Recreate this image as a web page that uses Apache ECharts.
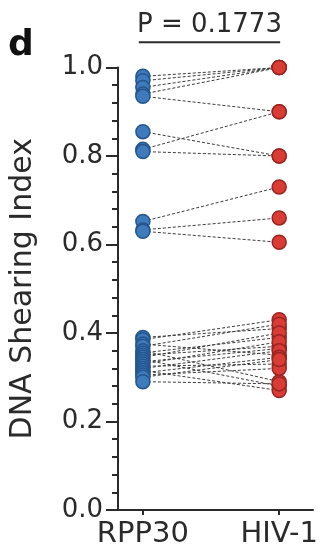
<!DOCTYPE html>
<html>
<head>
<meta charset="utf-8">
<script src="https://cdn.jsdelivr.net/npm/echarts@6/dist/echarts.min.js"></script>
<style>
  html, body { margin: 0; padding: 0; background: #fff; }
  #chart { width: 325px; height: 559px; }
</style>
</head>
<body>
<div id="chart"></div>
<script>
const categories = ['RPP30', 'HIV-1'];
// paired values, same index = same sample
const rpp30 = [
  0.98, 0.97, 0.955, 0.94, 0.935, 0.855, 0.815, 0.81, 0.652, 0.633, 0.63,
  0.39, 0.385, 0.375, 0.37, 0.36, 0.355, 0.35, 0.345, 0.34,
  0.335, 0.33, 0.325, 0.32, 0.315, 0.31, 0.305, 0.30, 0.29
];
const hiv1 = [
  1.0, 1.0, 1.0, 1.0, 0.90, 0.80, 0.90, 0.80, 0.73, 0.66, 0.605,
  0.41, 0.43, 0.35, 0.42, 0.29, 0.39, 0.37, 0.40, 0.28,
  0.365, 0.38, 0.33, 0.36, 0.27, 0.345, 0.32, 0.34, 0.285
];
const yTicks = [0, 0.2, 0.4, 0.6, 0.8, 1.0];
const pLabel = 'P = 0.1773';

const font = 'DejaVu Sans';
const ink = '#2a2a2a';

const chart = echarts.init(document.getElementById('chart'));

const pairSeries = rpp30.map((v, i) => ({
  type: 'line',
  data: [[0, v], [1, hiv1[i]]],
  symbol: 'none',
  silent: true,
  z: 1,
  lineStyle: { color: '#3a3a3a', width: 1, type: [3, 2] }
}));

chart.setOption({
  animation: false,
  grid: { left: 117, right: 12, top: 67.5, bottom: 49 },
  xAxis: {
    type: 'value',
    min: -0.1825,
    max: 1.248,
    splitLine: { show: false },
    axisLine: { onZero: false, lineStyle: { color: ink, width: 2 } },
    axisTick: { customValues: [0, 1], length: 5, lineStyle: { color: ink, width: 2 } },
    axisLabel: {
      customValues: [0, 1],
      formatter: v => categories[Math.round(v)],
      color: ink,
      fontFamily: font,
      fontSize: 29,
      margin: 10
    }
  },
  yAxis: {
    type: 'value',
    min: 0,
    max: 1,
    interval: 0.2,
    name: 'DNA Shearing Index',
    nameLocation: 'middle',
    nameGap: 80,
    nameTextStyle: { color: ink, fontFamily: font, fontSize: 30 },
    splitLine: { show: false },
    axisLine: { show: true, onZero: false, lineStyle: { color: ink, width: 2 } },
    axisTick: { length: 12, lineStyle: { color: ink, width: 2 } },
    minorTick: { show: true, splitNumber: 5, length: 6, lineStyle: { color: ink, width: 2 } },
    axisLabel: {
      formatter: v => v.toFixed(1),
      color: ink,
      fontFamily: font,
      fontSize: 26,
      margin: 15
    }
  },
  series: [
    ...pairSeries,
    {
      type: 'scatter',
      data: rpp30.map(v => [0, v]),
      symbolSize: 14,
      z: 3,
      itemStyle: { color: '#3e7bbd', borderColor: '#25568e', borderWidth: 1.5, opacity: 1 }
    },
    {
      type: 'scatter',
      data: hiv1.map(v => [1, v]),
      symbolSize: 14,
      z: 3,
      itemStyle: { color: '#d83c34', borderColor: '#9c2420', borderWidth: 1.5, opacity: 1 }
    }
  ]
});

// annotation: panel letter, p value and its bar
const [bx0, by] = chart.convertToPixel({ gridIndex: 0 }, [-0.03, 1.057]);
const [bx1] = chart.convertToPixel({ gridIndex: 0 }, [1.007, 1.057]);
chart.setOption({
  graphic: [
    {
      type: 'text',
      left: 8, top: 28,
      style: { text: 'd', font: 'bold 36px "DejaVu Sans"', fill: '#111' }
    },
    {
      type: 'text',
      x: (bx0 + bx1) / 2, y: by - 4,
      style: {
        text: pLabel, font: '26px "DejaVu Sans"', fill: ink,
        align: 'center', verticalAlign: 'bottom'
      }
    },
    {
      type: 'line',
      shape: { x1: bx0, y1: by, x2: bx1, y2: by },
      style: { stroke: ink, lineWidth: 2 }
    }
  ]
});
</script>
</body>
</html>
